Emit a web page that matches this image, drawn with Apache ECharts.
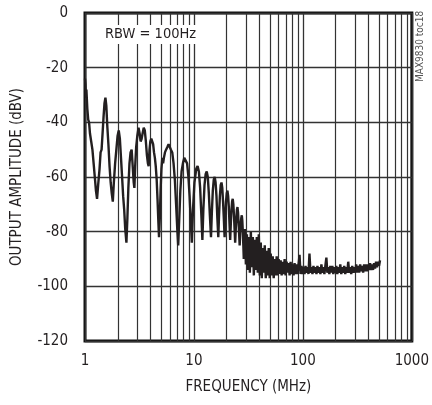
<!DOCTYPE html>
<html>
<head>
<meta charset="utf-8">
<script src="https://cdn.jsdelivr.net/npm/echarts@6/dist/echarts.min.js"></script>
<style>
html,body{margin:0;padding:0;background:#fff;}
#chart{width:432px;height:405px;}
</style>
</head>
<body>
<div id="chart"></div>
<script>
const FONT = '"Liberation Sans Narrow","Arial Narrow","DejaVu Sans Condensed",sans-serif';

const xTickLabels = [1, 10, 100, 1000];
const yTickLabels = [0, -20, -40, -60, -80, -100, -120];
const minorGridFreqs = [2,3,4,5,6,7,8,9,20,30,40,50,60,70,80,90,200,300,400,500,600,700,800,900];

const freqMHz = [
1.00,1.01,1.02,1.03,1.05,1.07,1.09,1.11,1.14,1.17,1.20,1.23,1.26,1.29,1.32,1.36,1.39,1.42,1.45,1.48,
1.51,1.54,1.57,1.60,1.64,1.68,1.72,1.76,1.80,1.84,1.89,1.94,1.99,2.04,2.09,2.14,2.19,2.24,2.29,2.34,
2.40,2.45,2.50,2.56,2.62,2.68,2.74,2.80,2.84,2.89,2.95,3.02,3.10,3.17,3.24,3.31,3.38,3.46,3.54,3.62,
3.70,3.78,3.84,3.91,3.98,4.06,4.14,4.22,4.30,4.38,4.46,4.55,4.63,4.71,4.78,4.86,4.94,5.03,5.12,5.21,
5.30,5.42,5.55,5.70,5.85,6.00,6.15,6.32,6.50,6.68,6.86,7.03,7.17,7.32,7.50,7.70,7.92,8.15,8.40,8.65,
8.90,9.12,9.35,9.56,
9.8,10.1,10.5,10.8,11.1,11.4,11.7,11.95,12.2,12.5,12.8,13.1,13.4,13.7,14.0,14.34,14.6,14.9,15.2,15.5,
15.8,16.1,16.4,16.73,17.0,17.3,17.6,17.9,18.2,18.5,18.8,19.12,19.4,19.7,20.0,20.3,20.6,20.9,21.2,21.51,
21.8,22.1,22.4,22.7,23.0,23.3,23.6,23.9,24.2,24.5,24.8,25.1,25.4,25.7,26.0,26.29,26.6,26.9,27.2,27.5,
27.8,28.1,28.4,28.68,
29.35,29.97,30.61,31.26,31.92,32.60,33.29,34.00,34.72,35.46,36.21,36.98,37.76,38.56,39.38,40.22,41.07,41.94,42.83,43.74,
44.67,45.62,46.59,47.58,48.59,49.62,50.67,51.75,52.84,53.96,55.11,56.28,57.47,58.69,59.94,61.21,62.51,63.84,65.19,66.57,
67.99,69.43,70.90,72.41,73.94,75.51,77.11,78.75,80.42,82.12,83.87,85.65,87.46,89.32,91.21,93.15,95.13,97.15,99.21,101.3,
103.5,105.7,107.9,110.2,112.5,114.9,117.4,119.9,122.4,125.0,127.7,130.4,133.2,136.0,138.9,141.8,144.8,147.9,151.0,154.2,
157.5,160.8,164.3,167.7,171.3,174.9,178.7,182.5,186.3,190.3,194.3,198.4,202.7,207.0,211.4,215.8,220.4,225.1,229.9,234.8,
239.7,244.8,250.0,255.3,260.7,266.3,271.9,277.7,283.6,289.6,295.8,302.0,308.4,315.0,321.7,328.5,335.5,342.6,349.8,357.3,
364.9,372.6,380.5,388.6,396.8,405.2,413.8,422.6,431.6,440.7,450.1,459.6,469.4,479.3,489.5,499.9,510.5
];

const amplitudeDbv = [
-24,-26,-31,-28,-35,-39,-40,-44,-47,-50,-55,-60,-65,-68,-63,-57,-51,-50,-44,-38,
-33,-31,-34,-41,-48,-56,-62,-66,-69,-62,-55,-50,-45,-43,-46,-53,-60,-67,-72,-79,
-84,-75,-64,-55,-51,-50,-56,-62,-64,-56,-49,-45,-42,-44,-47,-46,-44,-42,-43,-47,
-52,-55,-56,-50,-47,-46,-47,-48,-51,-53,-56,-61,-68,-76,-82,-75,-65,-57,-53,-55,
-53,-51,-50,-49,-48,-49,-50,-51,-55,-61,-70,-79,-85,-76,-65,-58,-55,-53,-53,-55,
-60,-67,-76,-84,
-72,-62,-57,-56,-58,-64,-74,-83,-72,-63,-59,-58,-60,-66,-74,-82,-73,-65,-61,-60,
-62,-67,-75,-82,-74,-67,-63,-62,-64,-69,-75,-82,-75,-69,-66,-65,-67,-71,-77,-83,
-77,-72,-69,-68,-70,-74,-79,-84,-79,-75,-72,-71,-73,-77,-81,-85,-80,-77,-75,-74,
-76,-80,-85,-90,
-79,-92,-81,-94,-82,-95,-80,-93,-82,-96,-83,-94,-82,-95,-81,-96,-84,-97,-86,-95,
-85,-97,-87,-96,-86,-97,-88,-96,-89,-97,-90,-96,-89,-96,-90,-95.5,-90.5,-96,-91,-95.5,
-90,-96,-91,-95,-91.5,-96,-91,-95.5,-92,-96,-91.5,-95.5,-92,-95.5,-92,-88.5,-95.5,-92.5,-95.5,-93,
-95.5,-92.5,-95,-93,-95.5,-88,-95,-93,-95.5,-92.5,-95,-93,-95.5,-92.5,-95,-93,-95.5,-92,-95,-93,
-95.5,-92.5,-89.5,-95,-93,-95.5,-92.5,-95,-92.5,-95.5,-93,-95,-92.5,-95.5,-93,-95,-92,-95.5,-93,-95,
-92.5,-95.5,-93,-95,-91,-95,-93,-95.5,-92.5,-95,-93,-95,-92,-95,-92.5,-95,-92,-94.5,-92.5,-95,
-92,-94.5,-92,-94.5,-92,-94,-91.5,-94,-92,-94,-91.5,-93.5,-91,-93,-91,-92.5,-90.5
];

const traceData = freqMHz.map((f, i) => [f, amplitudeDbv[i]]);

const chart = echarts.init(document.getElementById('chart'), null, {renderer: 'canvas'});
const textColor = '#231f20';
const gridColor = '#333333';

chart.setOption({
  animation: false,
  backgroundColor: '#ffffff',
  grid: {left: 85, right: 18, top: 13, bottom: 64, show: true, borderColor: '#111', borderWidth: 3, backgroundColor: 'transparent'},
  xAxis: {
    type: 'log', logBase: 10, min: 1, max: 1000,
    name: 'FREQUENCY (MHz)', nameLocation: 'middle', nameGap: 39,
    nameTextStyle: {fontFamily: FONT, fontSize: 15, color: textColor},
    axisLine: {show: false}, axisTick: {show: false},
    axisLabel: {fontFamily: FONT, fontSize: 15, color: textColor, margin: 13,
      formatter: v => (xTickLabels.indexOf(Math.round(v)) >= 0 ? String(Math.round(v)) : '')},
    splitLine: {show: true, lineStyle: {color: gridColor, width: 1.3}}
  },
  yAxis: {
    type: 'value', min: -120, max: 0, interval: 20,
    name: 'OUTPUT AMPLITUDE (dBV)', nameLocation: 'middle', nameGap: 60,
    nameTextStyle: {fontFamily: FONT, fontSize: 15, color: textColor},
    axisLine: {show: false}, axisTick: {show: false},
    axisLabel: {fontFamily: FONT, fontSize: 15, color: textColor, margin: 17,
      formatter: v => (yTickLabels.indexOf(v) >= 0 ? String(v) : '')},
    splitLine: {show: true, lineStyle: {color: gridColor, width: 1.3}}
  },
  graphic: [
    {type: 'text', left: 103, top: 25, z: 50,
      style: {text: 'RBW = 100Hz', fontFamily: FONT, fontSize: 14.5, fill: textColor,
        backgroundColor: '#ffffff', padding: [2, 2, 2, 2]}},
    {type: 'text', x: 425, y: 82, rotation: Math.PI / 2, z: 50,
      style: {text: 'MAX9830 toc18', fontFamily: FONT, fontSize: 10, fill: '#555', textAlign: 'left', textVerticalAlign: 'bottom'}}
  ],
  series: [
    {
      type: 'line', data: [], z: 1, silent: true,
      markLine: {
        silent: true, symbol: 'none', label: {show: false},
        lineStyle: {type: 'solid', color: gridColor, width: 1.2},
        data: minorGridFreqs.map(f => ({xAxis: f}))
      }
    },
    {
      type: 'line', data: traceData, z: 5,
      showSymbol: false, symbol: 'none', sampling: null,
      lineStyle: {color: textColor, width: 2.4}
    }
  ]
});
</script>
</body>
</html>
